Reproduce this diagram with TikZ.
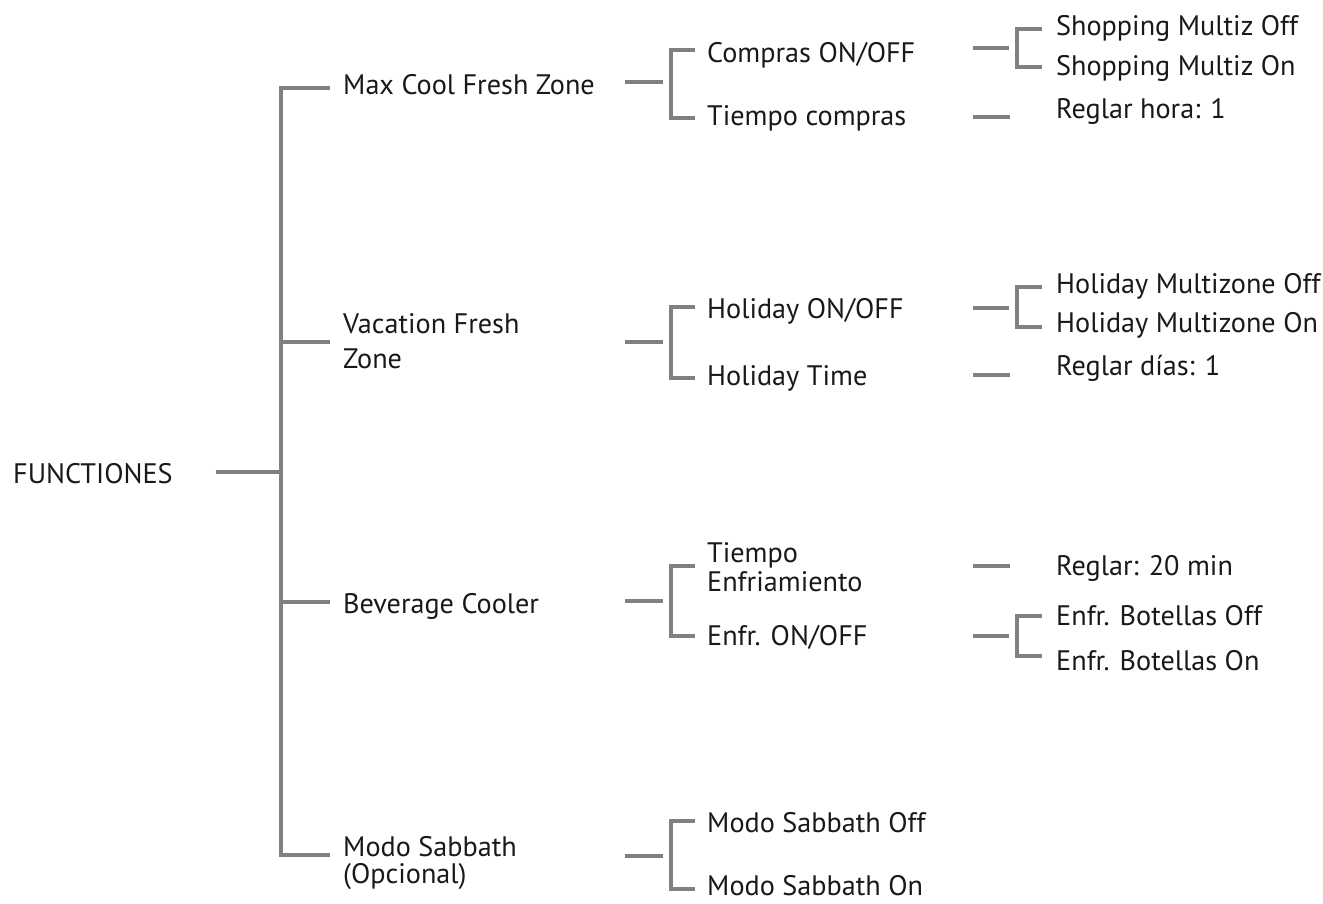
\documentclass[tikz,border=0pt]{standalone}
\usepackage{fontspec}
\setmainfont{PT Sans}
\usetikzlibrary{calc}

\tikzset{
  lbl/.style={anchor=base west, inner sep=0pt, align=left, text=black!90,
    font=\fontsize{28.2}{29}\selectfont},
  link/.style={draw=gray, line width=4pt},
}

\begin{document}
\begin{tikzpicture}[x=1pt,y=-1pt]
\useasboundingbox (0,0) rectangle (1323,903);

% root
\node[lbl] (funciones) at (13,483) {FUNCTIONES};

% first level
\node[lbl] (maxcool) at (343,94) {Max Cool Fresh Zone};
\node[lbl, font=\fontsize{28.2}{35}\selectfont] (vacation) at (343,368) {Vacation Fresh\\Zone};
\node[lbl] (beverage) at (343,613) {Beverage Cooler};
\node[lbl, font=\fontsize{28.2}{27}\selectfont] (sabbath) at (343,883) {Modo Sabbath\\(Opcional)};

% second level
\node[lbl] (compras) at (707,62) {Compras ON/OFF};
\node[lbl] (tcompras) at (707,125) {Tiempo compras};
\node[lbl] (holon) at (707,318) {Holiday ON/OFF};
\node[lbl] (holtime) at (707,385) {Holiday Time};
\node[lbl] (tenfr) at (707,591) {Tiempo\\Enfriamiento};
\node[lbl] (enfr) at (707,645) {Enfr. ON/OFF};
\node[lbl] (msoff) at (707,832) {Modo Sabbath Off};
\node[lbl] (mson) at (707,895) {Modo Sabbath On};

% third level
\node[lbl] (shopoff) at (1056,35) {Shopping Multiz Off};
\node[lbl] (shopon) at (1056,75) {Shopping Multiz On};
\node[lbl] (hora) at (1056,118) {Reglar hora: 1};
\node[lbl] (holmoff) at (1056,293) {Holiday Multizone Off};
\node[lbl] (holmon) at (1056,332) {Holiday Multizone On};
\node[lbl] (dias) at (1056,375) {Reglar días: 1};
\node[lbl] (reglmin) at (1056,575) {Reglar: 20 min};
\node[lbl] (botoff) at (1056,625) {Enfr. Botellas Off};
\node[lbl] (boton) at (1056,670) {Enfr. Botellas On};

% trunk
\coordinate (root) at (281,472);
\draw[link] ($(funciones.east |- root)+(43,0)$) -- (root);
\draw[link] ($(maxcool.west |- 0,88)+(-13,0)$) -- (281,88) -- (281,855)
  -- ($(sabbath.west |- 0,855)+(-13,0)$);
\draw[link] (281,342) -- ($(vacation.west |- 0,342)+(-13,0)$);
\draw[link] (281,602) -- ($(beverage.west |- 0,602)+(-13,0)$);

% forks
\foreach \sx/\sy/\bx/\ty/\by/\gap/\up/\down in {
  625/82/671/50/118/12/compras/tcompras,
  625/342/671/307/378/12/holon/holtime,
  625/601/671/566/636/12/tenfr/enfr,
  625/856/671/821/889/12/msoff/mson,
  973/48/1017/29/67/14/shopoff/shopon,
  973/308/1017/287/327/14/holmoff/holmon,
  973/636/1017/616/656/14/botoff/boton}{
  \draw[link] (\sx,\sy) -- (\bx-8,\sy);
  \draw[link] ($(\up.west |- 0,\ty)+(-\gap,0)$) -- (\bx,\ty) -- (\bx,\by)
    -- ($(\down.west |- 0,\by)+(-\gap,0)$);
}

% single stubs
\foreach \sy/\leaf in {117/hora, 375/dias, 566/reglmin}
  \draw[link] (973,\sy) -- ($(\leaf.west |- 0,\sy)+(-46,0)$);
\end{tikzpicture}
\end{document}
